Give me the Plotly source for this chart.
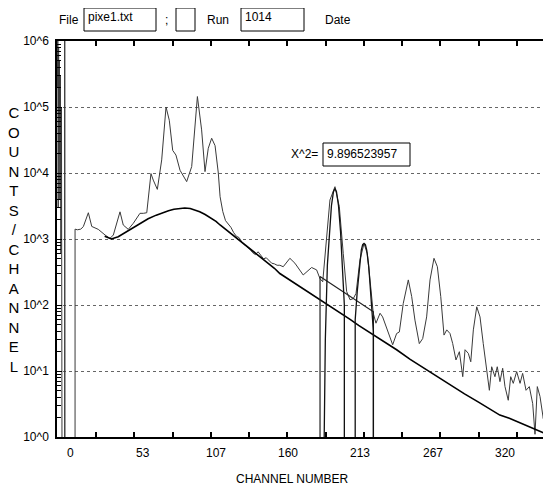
import plotly.graph_objects as go

# ---------------- data ----------------
spec_ch = [-9.8, -9.5, -9.2, -8.9, -8.6, -8.3, -8.0, -7.6, -7.2, -6.8, -6.4,
           -4.4, -4.4, -4.3, 3.2,
           3.2, 4.9, 7.4, 9.3, 13.0, 15.5, 20.3, 25.3, 28.9, 31.4, 34.3, 36.3, 38.7,
           42.4, 46.1, 51.0, 53.5, 56.0, 59.1, 60.8, 63.8, 67.0, 70.2, 72.6, 75.1,
           77.5, 80.5, 85.4, 89.1, 93.3, 96.4, 98.9, 101.3, 103.8, 106.3, 108.7,
           110.0, 112, 114, 116, 118, 120, 122, 124, 126, 128, 130, 132, 134, 136,
           138, 140, 142, 144, 146, 148, 150, 152, 154, 156.5, 161.4, 165.1, 171.2,
           177.4, 181.1, 183.6, 185.6, 188.5, 190.9, 194.6, 197.8, 200.7, 203.2,
           205.7, 208.1, 210.1, 213.0, 216.0, 218.4, 220.9, 222.8, 224.8, 227.8,
           229.7, 232.7, 235.1, 237.1, 240.0, 242.0, 244.9, 248.6, 251.1, 253.5,
           256.7, 259.2, 262.1, 264.6, 267.5, 270.0, 272.5, 274.9, 276.9, 279.3,
           281.3, 283.7, 286.2, 288.7, 290.4, 292.8, 294.6, 296.5, 299.0, 301.4,
           303.8, 305.8, 308.3, 310.0, 312.4, 314.1, 316.1, 318.1, 319.8, 322.2,
           324.0, 325.9, 328.4, 330.9, 332.8, 335.3, 337.7, 340.2, 341.9, 343.6,
           345.6, 348.0, 350.5, 353.0]
spec_counts = [2e5, 1.2e6, 3e3, 8e5, 2e4, 5e5, 4e3, 3e5, 600, 1e5, 0.5,
               0.5, 2e6, 0.5, 0.5,
               1410, 1380, 1410, 1540, 2500, 1550, 1400, 1150, 1020, 1150, 1830, 2580, 1630,
               1400, 1730, 2450, 2450, 2500, 9800, 7800, 5650, 15800, 1.0e5, 6.3e4, 2.2e4,
               1.87e4, 1.1e4, 7400, 12500, 1.44e5, 4.5e4, 1.05e4, 2.37e4, 3.36e4, 2.6e4, 1.0e4,
               4370, 2600, 1900, 1700, 1500, 1250, 1100, 1050, 900, 820, 760, 700, 620, 580,
               640, 560, 500, 520, 470, 430, 420, 400, 400, 380, 510, 430, 285,
               370, 340, 250, 225, 1070, 3900, 6200, 3100, 600, 160,
               120, 125, 150, 480, 855, 600, 190, 75, 53, 75,
               66, 44, 33, 25, 37, 39, 106, 240, 134, 59,
               26, 31, 66, 240, 510, 380, 134, 35, 42, 37,
               26, 14.7, 19.6, 8.2, 21, 18.5, 13.8, 42, 94, 66,
               26, 11.6, 5.1, 11.6, 8.2, 11.6, 6.9, 11, 5.8, 3.6,
               8.2, 6.5, 9.8, 6.5, 9.2, 5.1, 5.8, 3.2, 1.1, 5.8,
               4.1, 1.9, 5.1, 6.5]

bg_ch = [25, 30, 35, 40, 45, 51, 57, 63, 68, 72, 76, 80, 84, 88, 92, 95, 99, 103,
         107, 110, 114, 117, 120, 123, 129, 135, 140, 145, 150, 154, 162, 170, 178,
         185, 192, 200, 206, 212, 218, 223, 231, 240, 250, 262, 271, 280, 290, 300,
         308, 316, 323, 329, 335, 340, 345, 350, 354]
bg_counts = [1100, 1000, 1080, 1250, 1470, 1740, 2030, 2300, 2520, 2680, 2820, 2920,
             2950, 2900, 2750, 2580, 2350, 2100, 1850, 1630, 1400, 1250, 1120, 1000,
             800, 650, 530, 440, 360, 300, 235, 182, 145, 115, 92, 72, 60, 49, 41, 35,
             27.5, 21, 15, 10.4, 7.9, 6.1, 4.5, 3.4, 2.7, 2.15, 1.92, 1.7, 1.51, 1.36,
             1.23, 1.12, 1.03]

lbg_ch = [183.6, 183.6, 222.9, 222.9]
lbg_counts = [0.5, 270, 79, 0.5]

g1_ch = [186.5, 187.5, 189.0, 190.5, 192.0, 193.5, 194.6, 195.7, 197.2, 198.7, 200.2, 201.5, 201.5]
g1_counts = [0.5, 30, 400, 1300, 3200, 5200, 5800, 5200, 3200, 1300, 400, 100, 0.5]

g2_ch = [209.5, 209.5, 211.0, 212.5, 214.0, 215.0, 216.0, 217.0, 218.0, 219.5, 221.0, 222.9, 222.9]
g2_counts = [0.5, 60, 160, 380, 680, 820, 860, 820, 680, 380, 160, 40, 0.5]

xlabel_vals = [0, 53.333, 106.667, 160, 213.333, 266.667, 320]
xlabel_text = ["0", "53", "107", "160", "213", "267", "320"]
ytick_vals = [1, 10, 100, 1e3, 1e4, 1e5, 1e6]
ytick_text = ["10^0", "10^1", "10^2", "10^3", "10^4", "10^5", "10^6"]
chi2_text = "9.896523957"
file_text = "pixe1.txt"
run_text = "1014"

# ---------------- layout helpers ----------------
PAGE_OFF = 8                 # browser body margin
W, H = 551, 489              # target page size
L, R, T, B = 57, 550, 41, 437  # plot area in page pixels
FONT = "Liberation Sans, Arial, sans-serif"


def px(x):
    return (x - L) / (R - L)


def py(y):
    return (B - y) / (B - T)


fig = go.Figure()
fig.add_trace(go.Scatter(x=spec_ch, y=spec_counts, mode="lines",
                         line=dict(color="#3a3a3a", width=1), hoverinfo="skip"))
fig.add_trace(go.Scatter(x=bg_ch, y=bg_counts, mode="lines",
                         line=dict(color="black", width=1.6), hoverinfo="skip"))
fig.add_trace(go.Scatter(x=lbg_ch, y=lbg_counts, mode="lines",
                         line=dict(color="#222222", width=1.2), hoverinfo="skip"))
fig.add_trace(go.Scatter(x=g1_ch, y=g1_counts, mode="lines",
                         line=dict(color="#111111", width=1.3), hoverinfo="skip"))
fig.add_trace(go.Scatter(x=g2_ch, y=g2_counts, mode="lines",
                         line=dict(color="#111111", width=1.3), hoverinfo="skip"))

minor_y = [m * 10 ** k for k in range(6) for m in range(2, 10)]

fig.update_layout(
    width=W - PAGE_OFF, height=H - PAGE_OFF,
    margin=dict(l=L - PAGE_OFF, r=W - R, t=T - PAGE_OFF, b=H - B, autoexpand=False),
    paper_bgcolor="white", plot_bgcolor="white",
    showlegend=False,
    font=dict(family=FONT, size=12, color="black"),
    xaxis=dict(
        range=[(L - 70.7) / 1.358, (R - 70.7) / 1.358],
        tickmode="linear", tick0=18.63, dtick=28.18,
        ticks="inside", ticklen=5, tickwidth=1.5, tickcolor="black",
        showticklabels=False, showgrid=False, zeroline=False,
        showline=True, linecolor="black", linewidth=1.5, mirror="ticks",
    ),
    yaxis=dict(
        type="log", range=[0, 6],
        tickmode="array", tickvals=ytick_vals, ticktext=ytick_text,
        ticks="inside", ticklen=5, tickwidth=1, tickcolor="black",
        showgrid=True, gridcolor="#666666", griddash="dot", gridwidth=1,
        zeroline=False, showline=True, linecolor="black", linewidth=1.5,
        tickfont=dict(family=FONT, size=12),
        minor=dict(tickmode="array", tickvals=minor_y, ticks="inside",
                   ticklen=4, tickwidth=1, tickcolor="black", showgrid=False),
        ticklabelstandoff=4,
    ),
)

shapes = []
annos = []


def box(x0, y0, x1, y1):
    shapes.append(dict(type="rect", xref="paper", yref="paper",
                       x0=px(x0), x1=px(x1), y0=py(y1), y1=py(y0),
                       line=dict(color="black", width=1), fillcolor="white"))


def text(x, y, s, anchor="left", size=12):
    annos.append(dict(xref="paper", yref="paper", x=px(x), y=py(y), text=s,
                      showarrow=False, xanchor=anchor, yanchor="middle",
                      font=dict(family=FONT, size=size, color="black")))


# x tick labels (placed at their channel values)
for v, s in zip(xlabel_vals, xlabel_text):
    annos.append(dict(xref="x", yref="paper", x=v, y=py(453), text=s,
                      showarrow=False, xanchor="center", yanchor="middle",
                      font=dict(family=FONT, size=12, color="black")))

# header
text(57, 20, "File")
box(84, 8, 156, 31)
text(86, 17, file_text)
text(163, 20, ";")
box(176, 8, 195, 31)
text(205, 20, "Run")
box(241, 8, 304, 31)
text(243, 17, run_text)
text(323, 20, "Date")

# chi-square
text(320, 154, "X^2=", anchor="right")
box(323, 143, 410, 166)
text(325, 154, chi2_text)

# axis titles
text(292, 479, "CHANNEL NUMBER", anchor="center", size=12)
annos.append(dict(xref="paper", yref="paper", x=px(14), y=py(239),
                  text="<br>".join(list("COUNTS/CHANNEL")), showarrow=False,
                  xanchor="center", yanchor="middle", align="center",
                  font=dict(family=FONT, size=15, color="black")))

fig.update_layout(shapes=shapes, annotations=annos)
fig.write_html("out.html")
